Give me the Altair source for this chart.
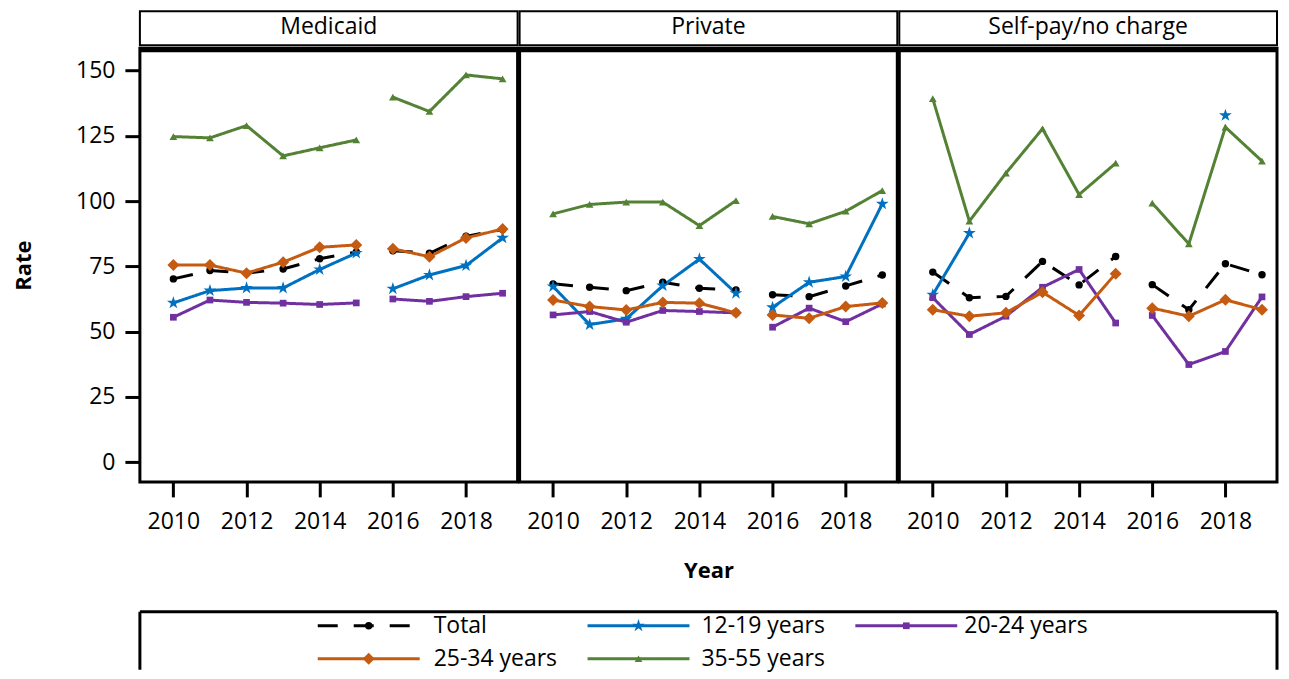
import altair as alt
import pandas as pd

years = [2010, 2011, 2012, 2013, 2014, 2015, 2016, 2017, 2018, 2019]
payers = ["Medicaid", "Private", "Self-pay/no charge"]
series = ["Total", "12-19 years", "20-24 years", "25-34 years", "35-55 years"]

medicaid_total = [70.2, 73.4, 72.4, 74.0, 77.9, 80.5, 81.0, 80.0, 86.5, 89.1]
medicaid_12_19 = [61.0, 65.7, 66.7, 66.7, 73.8, 80.1, 66.4, 71.7, 75.3, 85.9]
medicaid_20_24 = [55.5, 62.1, 61.2, 60.9, 60.4, 61.0, 62.5, 61.6, 63.4, 64.7]
medicaid_25_34 = [75.5, 75.5, 72.4, 76.6, 82.3, 83.2, 81.7, 78.7, 85.9, 89.3]
medicaid_35_55 = [124.7, 124.2, 128.9, 117.3, 120.4, 123.4, 139.8, 134.3, 148.3, 146.8]

private_total = [68.3, 67.0, 65.7, 68.9, 66.6, 66.0, 64.1, 63.4, 67.5, 71.7]
private_12_19 = [67.3, 52.7, 54.9, 67.6, 77.8, 64.7, 59.3, 68.9, 71.1, 98.9]
private_20_24 = [56.4, 57.7, 53.6, 58.1, 57.7, 57.2, 51.7, 59.0, 53.8, 60.6]
private_25_34 = [62.1, 59.6, 58.3, 61.2, 60.9, 57.2, 56.4, 55.1, 59.6, 61.0]
private_35_55 = [95.1, 98.7, 99.6, 99.6, 90.6, 100.2, 94.1, 91.3, 96.1, 104.0]

selfpay_total = [72.8, 63.0, 63.5, 76.9, 67.9, 78.8, 68.0, 58.4, 76.0, 71.8]
selfpay_12_19 = [64.1, 87.7, None, None, None, None, None, None, 132.8, None]
selfpay_20_24 = [63.0, 48.9, 55.9, 67.0, 73.8, 53.3, 56.2, 37.4, 42.4, 63.3]
selfpay_25_34 = [58.4, 55.9, 57.2, 65.1, 56.2, 72.2, 59.0, 55.9, 62.2, 58.4]
selfpay_35_55 = [139.2, 92.3, 110.7, 127.7, 102.5, 114.5, 99.2, 83.6, 128.3, 115.3]

table = {
    "Medicaid": [medicaid_total, medicaid_12_19, medicaid_20_24, medicaid_25_34, medicaid_35_55],
    "Private": [private_total, private_12_19, private_20_24, private_25_34, private_35_55],
    "Self-pay/no charge": [selfpay_total, selfpay_12_19, selfpay_20_24, selfpay_25_34, selfpay_35_55],
}

y_ticks = [0, 25, 50, 75, 100, 125, 150]
x_ticks = [2010, 2012, 2014, 2016, 2018]

colors = ["#000000", "#0070C0", "#7030A0", "#C55A11", "#548235"]
STAR = ("M0,-1L0.2245,-0.309L0.951,-0.309L0.363,0.118L0.588,0.809L0,0.382"
        "L-0.588,0.809L-0.363,0.118L-0.951,-0.309L-0.2245,-0.309Z")
shapes = ["circle", STAR, "square", "diamond", "triangle-up"]
sizes = [55, 180, 45, 144, 60]
leg_sizes = [130, 280, 120, 256, 130]
dashes = [[20, 16], [1, 0], [1, 0], [1, 0], [1, 0]]

rows = []
for p in payers:
    for s, vals in zip(series, table[p]):
        for yr, v in zip(years, vals):
            if v is None:
                continue
            rows.append({"payer": p, "series": s, "year": yr, "value": v,
                         "period": "a" if yr <= 2015 else "b"})
df = pd.DataFrame(rows)

FONT = "Open Sans"
W, H = 378, 434
GAP = 2
XDOM = [2009.085, 2019.41]
YDOM = [-7.54, 158.53]

color_enc = alt.Color("series:N", scale=alt.Scale(domain=series, range=colors), legend=None)
shape_enc = alt.Shape("series:N", scale=alt.Scale(domain=series, range=shapes), legend=None)
size_enc = alt.Size("series:N", scale=alt.Scale(type="ordinal", domain=series, range=sizes), legend=None)
one = pd.DataFrame({"k": [0]})


def panel(payer, idx):
    d = df[df.payer == payer]
    xenc = alt.X("year:Q",
                 scale=alt.Scale(domain=XDOM, nice=False, zero=False),
                 axis=alt.Axis(values=x_ticks, format="d", labelPadding=14,
                               title="Year" if idx == 1 else None, titlePadding=27))
    if idx == 0:
        yaxis = alt.Axis(values=y_ticks, title="Rate", labelPadding=10, titlePadding=40)
    else:
        yaxis = None
    yenc = alt.Y("value:Q", scale=alt.Scale(domain=YDOM, nice=False, zero=False), axis=yaxis)
    base = alt.Chart(d)
    lines = base.mark_line(strokeWidth=3).encode(
        x=xenc, y=yenc, color=color_enc,
        strokeDash=alt.StrokeDash("series:N", scale=alt.Scale(domain=series, range=dashes), legend=None),
        detail="period:N",
    )
    pts = base.mark_point(filled=True, opacity=1).encode(
        x=xenc, y=yenc, color=color_enc, shape=shape_enc, size=size_enc
    )
    topbar = alt.Chart(one).mark_rule(color="black", strokeWidth=4).encode(
        x=alt.value(0), x2=alt.value(W), y=alt.value(2)
    )
    hdr_box = alt.Chart(one).mark_rect(fill="white", stroke="black", strokeWidth=2).encode(
        x=alt.value(0), x2=alt.value(W), y=alt.value(-37), y2=alt.value(-3)
    )
    hdr_txt = alt.Chart(pd.DataFrame({"label": [payer]})).mark_text(
        font=FONT, fontSize=23, color="black", baseline="middle", align="center"
    ).encode(text="label:N", x=alt.value(W / 2), y=alt.value(-21))
    return alt.layer(lines, pts, topbar, hdr_box, hdr_txt).properties(
        width=W, height=H, view=alt.ViewBackground(stroke="black", strokeWidth=3)
    )


row = alt.hconcat(*[panel(p, i) for i, p in enumerate(payers)], spacing=GAP, bounds="flush")

# legend (manual, to show line + marker symbols)
LW, LH = 3 * W + 2 * GAP, 47
col_line = [(178, 280), (448, 550), (716, 818)]
col_text = [294, 562, 825]
row_y = [14, 47]
leg_rows = []
for i, s in enumerate(series):
    r, c = divmod(i, 3)
    x1, x2 = col_line[c]
    leg_rows.append({"series": s, "lkey": s, "x1": x1, "x2": x2, "xm": (x1 + x2) / 2,
                     "xt": col_text[c], "y": row_y[r]})
leg = pd.DataFrame(leg_rows)
lx = alt.Scale(domain=[0, LW], range=[0, LW])
ly = alt.Scale(domain=[0, LH], range=[0, LH])
lbase = alt.Chart(leg)
leg_lines = lbase.mark_rule(strokeWidth=3).encode(
    x=alt.X("x1:Q", scale=lx, axis=None), x2="x2:Q",
    y=alt.Y("y:Q", scale=ly, axis=None), color=color_enc,
    strokeDash=alt.StrokeDash("lkey:N", scale=alt.Scale(domain=series, range=[[22, 21], [1, 0], [1, 0], [1, 0], [1, 0]]), legend=None),
)
leg_pts = lbase.mark_point(filled=True, opacity=1).encode(
    x=alt.X("xm:Q", scale=lx, axis=None), y=alt.Y("y:Q", scale=ly, axis=None),
    color=color_enc, shape=shape_enc,
    size=alt.Size("lkey:N", scale=alt.Scale(type="ordinal", domain=series, range=leg_sizes), legend=None),
)
leg_text = lbase.mark_text(font=FONT, fontSize=23, align="left", baseline="middle", color="black").encode(
    x=alt.X("xt:Q", scale=lx, axis=None), y=alt.Y("y:Q", scale=ly, axis=None), text="series:N"
)
f_top = alt.Chart(one).mark_rule(color="black", strokeWidth=3).encode(
    x=alt.value(0), x2=alt.value(LW), y=alt.value(0))
f_left = alt.Chart(one).mark_rule(color="black", strokeWidth=3).encode(
    x=alt.value(0), y=alt.value(0), y2=alt.value(LH + 11))
f_right = alt.Chart(one).mark_rule(color="black", strokeWidth=3).encode(
    x=alt.value(LW), y=alt.value(0), y2=alt.value(LH + 11))
legend = alt.layer(leg_lines, leg_pts, leg_text, f_top, f_left, f_right).properties(
    width=LW, height=LH, view=alt.ViewBackground(stroke=None)
)

chart = alt.vconcat(row, legend, spacing=26).properties(
    padding={"left": 3, "top": 0, "right": 0, "bottom": 0}
).configure_axis(
    labelFont=FONT, labelFontSize=23, labelColor="black",
    tickColor="black", tickWidth=3, tickSize=15, domain=False, grid=False,
    titleFont=FONT, titleFontWeight="bold", titleFontSize=22, titleColor="black",
).configure_view(stroke=None)

chart.save("out.html", embed_options={"renderer": "svg", "actions": False})
